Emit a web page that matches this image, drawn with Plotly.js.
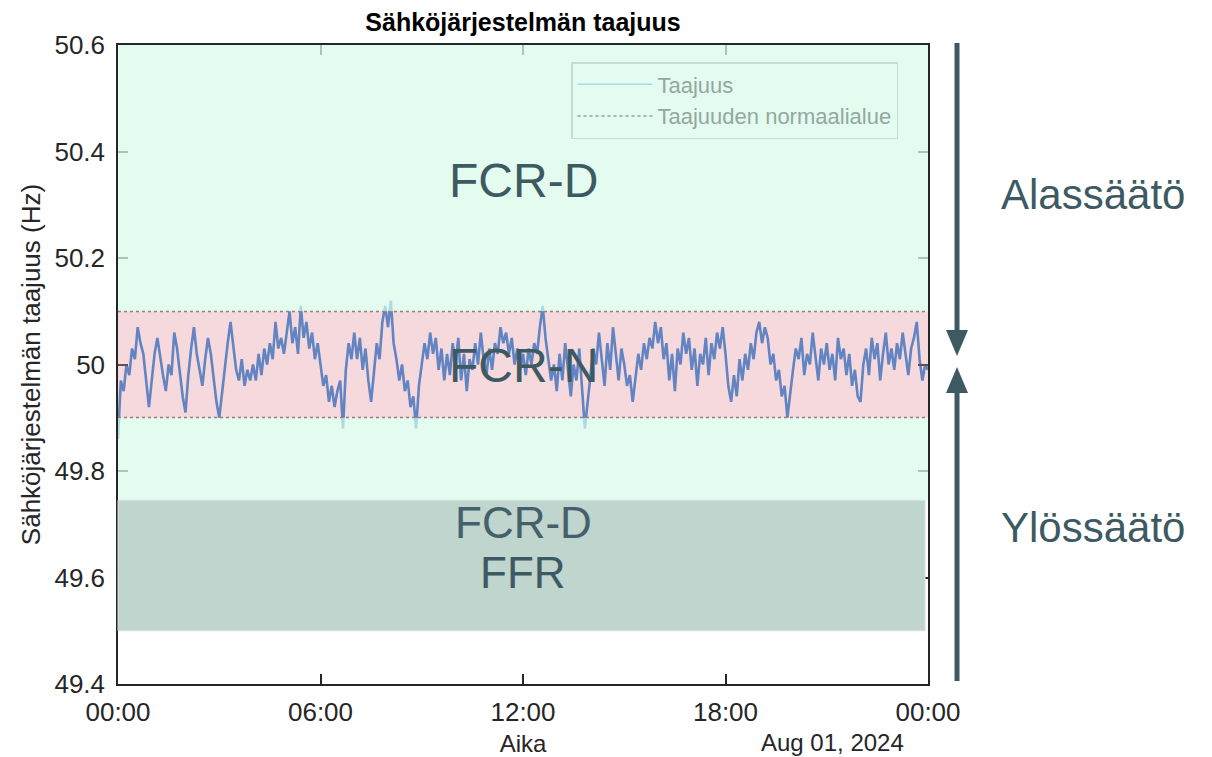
<!DOCTYPE html>
<html>
<head>
<meta charset="utf-8">
<script src="https://cdn.plot.ly/plotly-3.0.1.min.js"></script>
<style>html,body{margin:0;padding:0;background:#fff;}#chart{width:1212px;height:757px;}</style>
</head>
<body>
<div id="chart"></div>
<script>
// ---- Data, 5-minute samples from 2024-07-31 00:00 ----
const freq = [
49.86,49.97,49.95,50.00,49.98,50.03,50.01,50.07,50.04,50.02,49.97,49.92,
49.97,50.02,50.05,50.01,49.98,49.95,50.00,49.98,50.06,50.03,49.98,49.94,
49.91,49.98,50.03,50.07,50.02,49.99,49.96,50.01,50.05,50.02,49.97,49.93,
49.90,49.95,50.00,50.04,50.08,50.03,49.99,49.97,50.01,49.96,49.99,49.97,
50.00,49.97,50.02,49.98,50.03,50.00,50.04,50.01,50.08,50.03,50.05,50.02,
50.06,50.10,50.04,50.07,50.02,50.11,50.05,50.08,50.03,50.06,50.01,50.04,
50.00,49.96,49.98,49.93,49.96,49.92,49.95,49.97,49.88,49.99,50.04,50.01,
50.06,50.01,50.05,49.99,50.03,49.97,49.93,49.98,50.04,50.01,50.08,50.11,
50.07,50.12,50.04,50.01,49.97,50.00,49.95,49.97,49.92,49.94,49.88,49.96,
50.00,50.04,50.01,50.06,50.02,50.05,49.99,50.03,49.97,50.02,49.98,50.04,
50.00,50.05,49.97,50.02,49.95,50.01,49.99,50.04,50.00,50.06,50.01,49.98,
50.03,49.99,50.04,50.02,50.07,50.04,50.06,50.02,50.05,50.00,50.03,49.99,
50.02,49.98,50.03,50.00,50.04,50.02,50.07,50.11,50.05,50.01,49.97,50.00,
49.95,50.02,49.97,50.04,49.99,49.94,50.00,49.97,50.03,49.96,49.88,49.93,
49.98,50.03,50.00,50.06,50.01,49.96,50.04,49.99,50.07,50.02,49.97,50.03,
50.00,49.96,49.98,49.93,49.97,50.02,49.99,50.04,50.01,50.05,50.03,50.08,
50.04,50.07,50.01,50.04,49.97,50.02,49.95,50.03,50.00,50.06,50.02,50.05,
49.99,50.03,49.96,50.02,50.00,50.05,49.98,50.04,50.01,50.06,50.03,50.07,
50.02,49.96,49.93,49.98,49.94,50.01,49.97,50.02,49.99,50.04,50.01,50.06,
50.08,50.04,50.07,50.05,50.00,50.02,49.97,49.99,49.94,49.96,49.90,49.95,
49.99,50.03,50.01,50.05,49.98,50.02,50.00,50.06,50.01,49.97,50.03,50.00,
50.04,49.99,50.02,49.97,50.05,50.01,50.03,49.98,50.02,49.96,49.99,49.94,
49.93,50.00,50.03,49.98,50.05,50.01,50.04,49.97,50.02,50.06,50.00,50.03,
49.99,50.04,50.01,50.06,50.02,49.98,50.03,50.05,50.08,50.01,49.97,50.00,
49.99
];
const sampleMinutes = 5;
const startTime = '2024-07-31 00:00';
const endTime = '2024-08-01 00:00';
const normalBand = [49.9, 50.1];          // Taajuuden normaalialue
const fcrDUpTop = 50.6;                    // FCR-D (alassäätö) zone top
const lowerZone = [49.5, 49.745];          // FCR-D / FFR (ylössäätö) zone
const xTickVals = ['2024-07-31 00:00','2024-07-31 06:00','2024-07-31 12:00','2024-07-31 18:00','2024-08-01 00:00'];
const xTickText = ['00:00','06:00','12:00','18:00','00:00'];
const yTickVals = [49.4, 49.6, 49.8, 50, 50.2, 50.4, 50.6];
const yTickText = ['49.4','49.6','49.8','50','50.2','50.4','50.6'];

// ---- build times ----
function fmt(d){
  const p = n => String(n).padStart(2,'0');
  return d.getUTCFullYear()+'-'+p(d.getUTCMonth()+1)+'-'+p(d.getUTCDate())+' '+p(d.getUTCHours())+':'+p(d.getUTCMinutes());
}
const t0 = Date.UTC(2024,6,31,0,0);
const times = freq.map((_, i) => fmt(new Date(t0 + i*sampleMinutes*60000)));

// ---- layout geometry (px) ----
const W = 1212, H = 757;
const L = 118, R = 928, T = 45, B = 684;
const px = x => (x - L) / (R - L);
const py = y => (B - y) / (B - T);

const FONT = 'Liberation Sans, Arial, Helvetica, sans-serif';
const TXT = '#3d5a63';

const traces = [
  { x: times, y: freq, type: 'scatter', mode: 'lines', name: 'Taajuus', showlegend: false,
    line: { color: 'rgb(30,125,215)', width: 2.6 } },
  { x: [startTime, endTime, null, startTime, endTime],
    y: [normalBand[1], normalBand[1], null, normalBand[0], normalBand[0]],
    type: 'scatter', mode: 'lines', name: 'Taajuuden normaalialue', showlegend: false,
    line: { color: '#6e5a5e', width: 2, dash: 'dot' } },
  // legend proxies (appear washed like the overlaid reference legend)
  { x: [null], y: [null], type: 'scatter', mode: 'lines', name: 'Taajuus',
    line: { color: '#a6dbe9', width: 1.5 } },
  { x: [null], y: [null], type: 'scatter', mode: 'lines', name: 'Taajuuden normaalialue',
    line: { color: '#a9b4ae', width: 2, dash: 'dot' } }
];

const shapes = [
  { type: 'rect', xref: 'paper', yref: 'y', x0: 0, x1: 1, y0: normalBand[1], y1: fcrDUpTop,
    fillcolor: '#d9fbea', opacity: 0.75, line: { width: 0 }, layer: 'above' },
  { type: 'rect', xref: 'paper', yref: 'y', x0: 0, x1: 1, y0: lowerZone[1], y1: normalBand[0],
    fillcolor: '#d9fbea', opacity: 0.75, line: { width: 0 }, layer: 'above' },
  { type: 'rect', xref: 'paper', yref: 'y', x0: 0, x1: 1, y0: normalBand[0], y1: normalBand[1],
    fillcolor: 'rgb(226,146,155)', opacity: 0.35, line: { width: 0 }, layer: 'above' },
  { type: 'rect', xref: 'paper', yref: 'y', x0: 0, x1: px(925), y0: lowerZone[0], y1: lowerZone[1],
    fillcolor: '#bfd5ce', opacity: 1, line: { color: '#d3e3dd', width: 1 }, layer: 'above' },
  // arrows
  { type: 'line', xref: 'paper', yref: 'paper', x0: px(957), x1: px(957), y0: py(43), y1: py(332),
    line: { color: TXT, width: 5 } },
  { type: 'path', xref: 'paper', yref: 'paper', fillcolor: TXT, line: { width: 0 },
    path: `M ${px(946)} ${py(330)} L ${px(968)} ${py(330)} L ${px(957)} ${py(356)} Z` },
  { type: 'line', xref: 'paper', yref: 'paper', x0: px(957), x1: px(957), y0: py(393), y1: py(681),
    line: { color: TXT, width: 5 } },
  { type: 'path', xref: 'paper', yref: 'paper', fillcolor: TXT, line: { width: 0 },
    path: `M ${px(946)} ${py(393)} L ${px(968)} ${py(393)} L ${px(957)} ${py(367)} Z` }
];

const ann = (text, xPx, yPx, size, color) => ({
  text, xref: 'paper', yref: 'paper', x: px(xPx), y: py(yPx), xanchor: 'center', yanchor: 'middle',
  showarrow: false, font: { family: FONT, size, color: color || TXT }
});

const annotations = [
  ann('FCR-D', 523, 180, 48),
  ann('FCR-N', 523, 366, 48),
  ann('FCR-D', 523, 522, 44, '#45606a'),
  ann('FFR', 523, 572, 44),
  ann('Alassäätö', 1093, 195, 42),
  ann('Ylössäätö', 1093, 527, 42),
  { text: 'Aug 01, 2024', xref: 'paper', yref: 'paper', x: px(906), y: py(742), xanchor: 'right', yanchor: 'middle',
    showarrow: false, font: { family: FONT, size: 24, color: '#262626' } }
];

const layout = {
  width: W, height: H,
  margin: { l: L, r: W - R, t: T, b: H - B, pad: 0 },
  paper_bgcolor: '#ffffff', plot_bgcolor: '#ffffff',
  font: { family: FONT, color: '#262626' },
  title: { text: '<b>Sähköjärjestelmän taajuus</b>', font: { family: FONT, size: 25, color: '#000' },
    x: 0.5, xref: 'paper', xanchor: 'center', y: 1 - 22 / H, yref: 'container', yanchor: 'middle' },
  showlegend: true,
  legend: { x: px(571), y: py(62), xanchor: 'left', yanchor: 'top', bgcolor: 'rgba(0,0,0,0)',
    bordercolor: '#c6ddd4', borderwidth: 1.5, font: { family: FONT, size: 22, color: '#93a8a1' },
    itemwidth: 75, tracegroupgap: 0 },
  xaxis: {
    type: 'date', range: [startTime, endTime], tickmode: 'array', tickvals: xTickVals, ticktext: xTickText,
    ticks: 'inside', ticklen: 10, tickwidth: 1.5, tickcolor: '#262626',
    showline: true, linecolor: '#262626', linewidth: 1.5, mirror: 'ticks',
    showgrid: false, zeroline: false, ticklabelstandoff: 4,
    tickfont: { family: FONT, size: 26, color: '#262626' },
    title: { text: 'Aika', font: { family: FONT, size: 24, color: '#262626' }, standoff: 12 }
  },
  yaxis: {
    range: [49.4, 50.6], tickmode: 'array', tickvals: yTickVals, ticktext: yTickText,
    ticks: 'inside', ticklen: 10, tickwidth: 1.5, tickcolor: '#262626',
    showline: true, linecolor: '#262626', linewidth: 1.5, mirror: 'ticks',
    showgrid: false, zeroline: false, ticklabelstandoff: 6,
    tickfont: { family: FONT, size: 26, color: '#262626' },
    title: { text: 'Sähköjärjestelmän taajuus (Hz)', font: { family: FONT, size: 26, color: '#262626' }, standoff: 6 }
  },
  shapes, annotations
};

Plotly.newPlot('chart', traces, layout, { displayModeBar: false, responsive: false });
</script>
</body>
</html>
